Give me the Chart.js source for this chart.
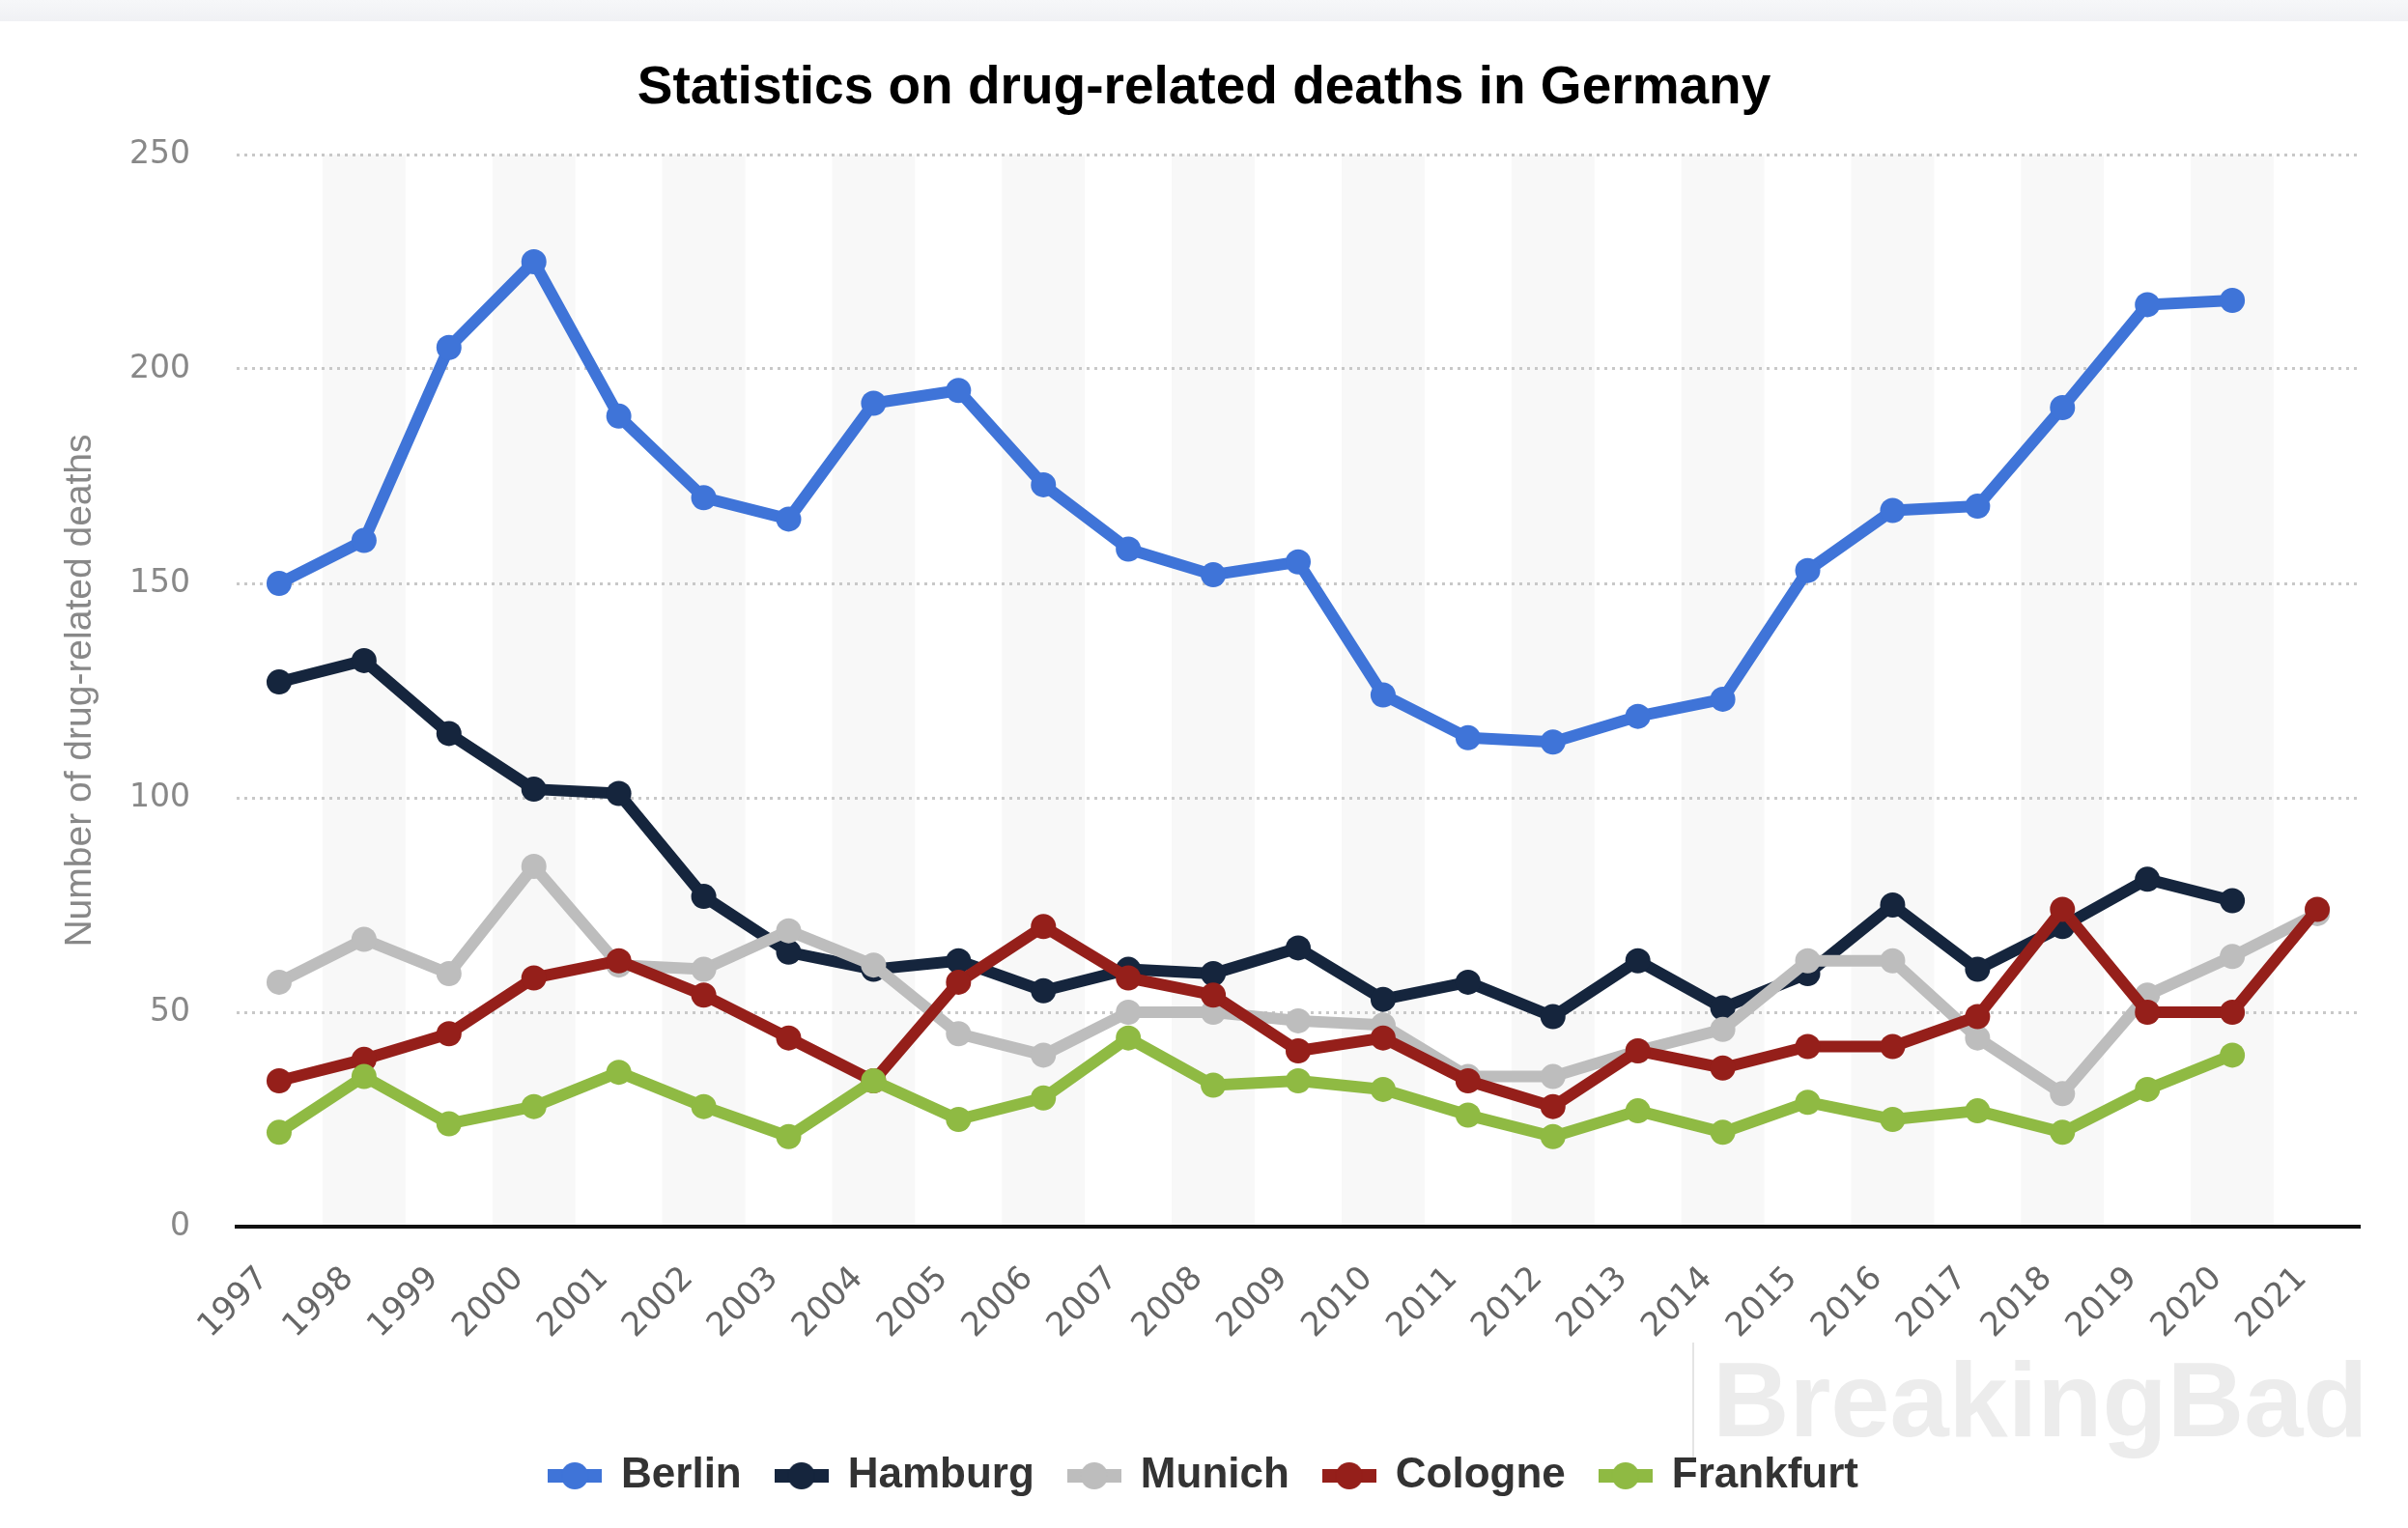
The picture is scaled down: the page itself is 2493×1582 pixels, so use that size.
<!DOCTYPE html>
<html>
<head>
<meta charset="utf-8">
<title>Statistics on drug-related deaths in Germany</title>
<script src="https://cdn.jsdelivr.net/npm/chart.js@4"></script>
<style>
  html, body { margin: 0; padding: 0; width: 2493px; height: 1582px; overflow: hidden; background: #fff; }
  #topband { position: absolute; left: 0; top: 0; width: 2493px; height: 22px; background: linear-gradient(#f6f7f9, #f0f1f4); }
  #chart { position: absolute; left: 0; top: 0; }
  #markline { position: absolute; left: 1752px; top: 1390px; width: 2px; height: 123px; background: #e4e4e4; }
  #mark { position: absolute; left: 1773px; top: 1394px; font: bold 110px "Liberation Sans", Arial, sans-serif; line-height: 110px; color: #ececec; white-space: nowrap; }
</style>
</head>
<body>
<div id="topband"></div>
<div id="markline"></div>
<div id="mark">BreakingBad</div>
<canvas id="chart" width="2493" height="1582"></canvas>
<script>
// Data
const years = ["1997", "1998", "1999", "2000", "2001", "2002", "2003", "2004", "2005", "2006", "2007", "2008",
  "2009", "2010", "2011", "2012", "2013", "2014", "2015", "2016", "2017", "2018", "2019", "2020", "2021"];
const berlin = [150, 160, 205, 225, 189, 170, 165, 192, 195, 173, 158, 152, 155, 124, 114, 113, 119, 123, 153, 167, 168, 191, 215, 216, null];
const hamburg = [127, 132, 115, 102, 101, 77, 64, 60, 62, 55, 60, 59, 65, 53, 57, 49, 62, 51, 59, 75, 60, 70, 81, 76, null];
const munich = [57, 67, 59, 84, 61, 60, 69, 61, 45, 40, 50, 50, 48, 47, 35, 35, 41, 46, 62, 62, 44, 31, 54, 63, 73];
const cologne = [34, 39, 45, 58, 62, 54, 44, 34, 57, 70, 58, 54, 41, 44, 34, 28, 41, 37, 42, 42, 49, 74, 50, 50, 74];
const frankfurt = [22, 35, 24, 28, 36, 28, 21, 34, 25, 30, 44, 33, 34, 32, 26, 21, 27, 22, 29, 25, 27, 22, 32, 40, null];
const yTicks = [0, 50, 100, 150, 200, 250];

const seriesNames = ["Berlin", "Hamburg", "Munich", "Cologne", "Frankfurt"];
const seriesData = [berlin, hamburg, munich, cologne, frankfurt];
const seriesColors = ["#3f74d8", "#15253d", "#bdbdbd", "#951f1a", "#8fba43"];

// legend marker: short thick line with a dot
function legendMarker(color) {
  const c = document.createElement("canvas");
  c.width = 56;
  c.height = 30;
  const g = c.getContext("2d");
  g.fillStyle = color;
  g.fillRect(0, 8, 56, 14);
  g.beginPath();
  g.arc(28, 15, 14, 0, Math.PI * 2);
  g.fill();
  return c;
}
const markers = seriesColors.map(legendMarker);

// alternating light column bands
const bandPlugin = {
  id: "bands",
  beforeDraw(chart) {
    const x = chart.scales.x;
    const area = chart.chartArea;
    const ctx = chart.ctx;
    const w = x.getPixelForValue(1) - x.getPixelForValue(0);
    ctx.save();
    ctx.fillStyle = "#f8f8f8";
    for (let i = 1; i < years.length; i += 2) {
      const cx = x.getPixelForValue(i);
      ctx.fillRect(cx - w / 2 + 1, area.top, w - 2, area.bottom - area.top);
    }
    ctx.restore();
  }
};

const datasets = seriesNames.map((name, i) => ({
  label: name,
  data: seriesData[i],
  borderColor: seriesColors[i],
  backgroundColor: seriesColors[i],
  pointBackgroundColor: seriesColors[i],
  pointBorderWidth: 0,
  pointRadius: 13,
  borderWidth: 12,
  borderJoinStyle: "round",
  borderCapStyle: "round",
  tension: 0,
  spanGaps: false,
  order: seriesNames.length - i
}));

new Chart(document.getElementById("chart").getContext("2d"), {
  type: "line",
  data: { labels: years, datasets: datasets },
  plugins: [bandPlugin],
  options: {
    responsive: false,
    animation: false,
    devicePixelRatio: 1,
    layout: { padding: { top: 20, left: 50, right: 50, bottom: 22 } },
    plugins: {
      tooltip: { enabled: false },
      title: {
        display: true,
        text: "Statistics on drug-related deaths in Germany",
        color: "#000",
        font: { family: "'Liberation Sans', Arial, sans-serif", size: 55, weight: "bold" },
        padding: { top: 39, bottom: 35 }
      },
      legend: {
        position: "bottom",
        labels: {
          usePointStyle: true,
          pointStyleWidth: 52,
          boxHeight: 44,
          padding: 36,
          color: "#333",
          font: { family: "'Liberation Sans', Arial, sans-serif", size: 44, weight: "bold" },
          sort: (a, b) => a.datasetIndex - b.datasetIndex,
          generateLabels(chart) {
            const items = Chart.defaults.plugins.legend.labels.generateLabels(chart);
            items.forEach(it => { it.pointStyle = markers[it.datasetIndex]; });
            return items;
          }
        }
      }
    },
    scales: {
      x: {
        offset: true,
        grid: { display: false },
        border: { display: true, color: "#111", width: 4 },
        ticks: {
          autoSkip: false,
          maxRotation: 45,
          minRotation: 45,
          padding: 26,
          labelOffset: -16,
          color: "#666",
          font: { family: "'DejaVu Sans', sans-serif", size: 34 }
        },
        afterFit(s) { s.height = 200; }
      },
      y: {
        min: 0,
        max: 250,
        afterBuildTicks(s) { s.ticks = yTicks.map(v => ({ value: v })); },
        grid: {
          color: "#c8c8c8",
          lineWidth: 3,
          drawTicks: false
        },
        border: { display: false, dash: [3, 5] },
        ticks: {
          padding: 48,
          color: "#888",
          font: { family: "'DejaVu Sans', sans-serif", size: 33 }
        },
        title: {
          display: true,
          text: "Number of drug-related deaths",
          color: "#888",
          font: { family: "'Liberation Sans', Arial, sans-serif", size: 39 },
          padding: { top: 10, bottom: 0 }
        },
        afterFit(s) { s.width = 195; }
      }
    }
  }
});
</script>
</body>
</html>
